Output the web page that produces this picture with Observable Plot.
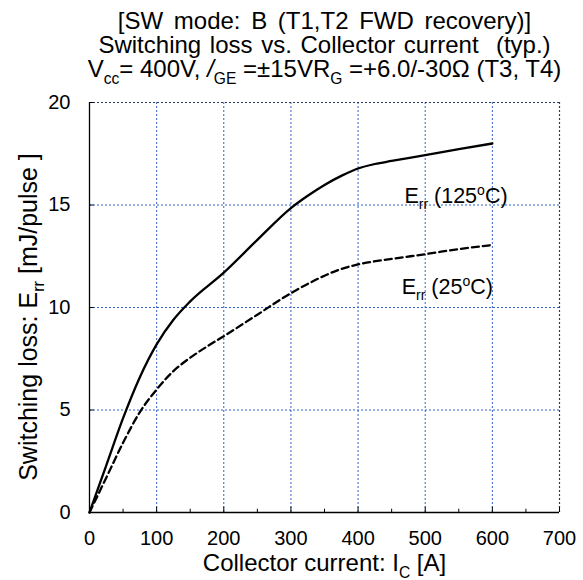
<!DOCTYPE html>
<html>
<head>
<meta charset="utf-8">
<script src="https://cdn.jsdelivr.net/npm/d3@7"></script>
<script src="https://cdn.jsdelivr.net/npm/@observablehq/plot@0.6"></script>
<style>
  body { margin: 0; background: white; }
  svg text { font-family: Arial, "Liberation Sans", sans-serif; }
  g.wide text { word-spacing: 4px; }
  g.wide2 text { word-spacing: 2px; }
</style>
</head>
<body>
<div id="chart"></div>
<script>
// ---- data ----
const current125 = [0, 25, 50, 75, 100, 125, 150, 200, 250, 300, 325, 350, 375, 400, 425, 450, 500, 550, 600];
const err125     = [0, 2.3, 4.6, 6.6, 8.2, 9.4, 10.3, 11.7, 13.3, 14.85, 15.45, 15.98, 16.42, 16.78, 17.0, 17.15, 17.43, 17.72, 18.0];
const current25  = [0, 25, 50, 75, 100, 125, 150, 175, 200, 250, 300, 325, 350, 375, 400, 450, 500, 550, 600];
const err25      = [0, 1.7, 3.4, 4.9, 6.0, 6.9, 7.55, 8.1, 8.6, 9.65, 10.7, 11.15, 11.55, 11.88, 12.1, 12.37, 12.6, 12.85, 13.05];

const xTicks = [0, 100, 200, 300, 400, 500, 600, 700];
const xMinorTicks = [50, 150, 250, 350, 450, 550, 650];
const yTicks = [0, 5, 10, 15, 20];
const xGrid = [100, 200, 300, 400, 500, 600];
const yGrid = [5, 10, 15];

const titleLines = [
  "[SW mode: B (T1,T2 FWD recovery)]",
  "Switching loss vs. Collector current  (typ.)",
  "V<sub>cc</sub>= 400V, <i>/</i><sub>GE</sub> =±15VR<sub>G</sub> =+6.0/-30Ω (T3, T4)"
];
const xLabel = "Collector current: I<sub>C</sub> [A]";
const yLabel = "Switching loss: E<sub>rr</sub> [mJ/pulse ]";
const curveLabels = [
  {x: 469, y: 15.44, text: "E<sub>rr</sub> (125<sup>o</sup>C)"},
  {x: 465, y: 11.0, text: "E<sub>rr</sub> (25<sup>o</sup>C)"}
];

const s125 = current125.map((c, i) => ({x: c, y: err125[i]}));
const s25 = current25.map((c, i) => ({x: c, y: err25[i]}));

const gridStyle = {stroke: "#3163c8", strokeOpacity: 1, strokeWidth: 1, strokeDasharray: "2,2"};
const FONT = "Arial, 'Liberation Sans', sans-serif";
const centered = {textAnchor: "middle", lineAnchor: "middle"};

const plot = Plot.plot({
  width: 583,
  height: 580,
  marginTop: 102,
  marginLeft: 89,
  marginRight: 24,
  marginBottom: 68,
  style: {fontFamily: FONT, fontSize: "20px", background: "white", color: "black"},
  x: {domain: [0, 700]},
  y: {domain: [0, 20]},
  marks: [
    Plot.gridX(xGrid, gridStyle),
    Plot.gridY(yGrid, gridStyle),
    Plot.ruleY([20], {stroke: "#2a3a66", strokeDasharray: "2,2", strokeWidth: 1.2}),
    Plot.ruleX([700], {stroke: "#2a3a66", strokeDasharray: "2,2", strokeWidth: 1.2}),
    Plot.ruleX([0], {stroke: "black", strokeWidth: 1.3}),
    Plot.ruleY([0], {stroke: "black", strokeWidth: 1.3}),
    Plot.ruleX(xTicks, {y1: 0, y2: 0.26, stroke: "black"}),
    Plot.ruleX(xMinorTicks, {y1: 0, y2: 0.16, stroke: "black"}),
    Plot.ruleY(yTicks, {x1: 0, x2: 7, stroke: "black"}),
    Plot.axisX({ticks: xTicks, tickSize: 0, tickPadding: 18, label: null, fontSize: 20}),
    Plot.axisY({ticks: yTicks, tickSize: 0, tickPadding: 19, label: null, fontSize: 20}),
    Plot.line(s125, {x: "x", y: "y", curve: "monotone-x", stroke: "black", strokeWidth: 2.3}),
    Plot.line(s25, {x: "x", y: "y", curve: "monotone-x", stroke: "black", strokeWidth: 2.3, strokeDasharray: "7,4"}),
    Plot.text(curveLabels, {x: "x", y: "y", text: d => d.text, textAnchor: "start", lineAnchor: "middle", fontSize: 21.5, className: "rich"}),
    Plot.text([titleLines[0]], {frameAnchor: "top", dy: -80.7, fontSize: 24, ...centered, className: "rich wide"}),
    Plot.text([titleLines[1]], {frameAnchor: "top", dy: -56.7, fontSize: 24, ...centered, className: "rich wide2"}),
    Plot.text([titleLines[2]], {frameAnchor: "top", dy: -32.7, fontSize: 24, ...centered, className: "rich"}),
    Plot.text([xLabel], {frameAnchor: "bottom", dy: 51, fontSize: 24, ...centered, className: "rich"}),
    Plot.text([yLabel], {frameAnchor: "left", dx: -61, dy: 9.5, rotate: -90, fontSize: 25, ...centered, className: "rich"})
  ]
});

// convert simple markup to SVG tspans (sub / sup / italic)
function richify(el) {
  const src = el.textContent;
  const g = el.closest("g");
  const base = parseFloat(g && g.getAttribute("font-size")) || 20;
  const re = /<(sub|sup|i)>(.*?)<\/\1>/g;
  const parts = [];
  let last = 0, m;
  while ((m = re.exec(src))) {
    if (m.index > last) parts.push({kind: "n", s: src.slice(last, m.index)});
    parts.push({kind: m[1], s: m[2]});
    last = re.lastIndex;
  }
  if (last < src.length) parts.push({kind: "n", s: src.slice(last)});
  while (el.firstChild) el.removeChild(el.firstChild);
  let offset = 0;
  for (const p of parts) {
    const t = document.createElementNS("http://www.w3.org/2000/svg", "tspan");
    let target = 0;
    if (p.kind === "sub") { target = base * 0.28; t.setAttribute("font-size", (base * 0.65).toFixed(1)); }
    else if (p.kind === "sup") { target = -base * 0.38; t.setAttribute("font-size", (base * 0.65).toFixed(1)); }
    else if (p.kind === "i") { t.setAttribute("font-style", "italic"); }
    const d = target - offset;
    if (d !== 0) t.setAttribute("dy", d.toFixed(2));
    offset = target;
    t.textContent = p.s;
    el.appendChild(t);
  }
}
d3.select(plot).selectAll("g.rich text").each(function() { richify(this); });

document.getElementById("chart").appendChild(plot);
</script>
</body>
</html>
